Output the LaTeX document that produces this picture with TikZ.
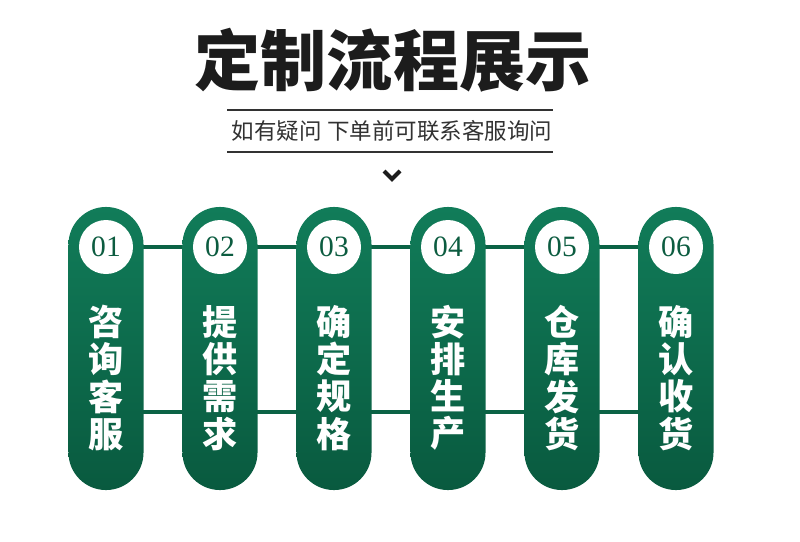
\documentclass[tikz,border=0pt]{standalone}
\usepackage{fontspec}
\usepackage{tikz}
\usetikzlibrary{positioning,backgrounds}
\newfontfamily\cjk{Noto Sans CJK SC}
\newfontfamily\numfont{Liberation Serif}
\definecolor{pilltop}{RGB}{17,124,89}
\definecolor{pillbot}{RGB}{9,90,63}
\definecolor{linkcol}{RGB}{11,99,69}
\definecolor{numcol}{RGB}{12,92,64}
\definecolor{titlecol}{RGB}{28,28,28}
\definecolor{subcol}{RGB}{50,50,50}
\tikzset{
  pill/.style={rectangle,rounded corners=0.9375cm,minimum width=1.875cm,minimum height=7.075cm,
    inner sep=0pt,top color=pilltop,bottom color=pillbot,draw=none},
  numcircle/.style={circle,fill=white,minimum size=1.35cm,inner sep=0pt,
    font=\numfont\fontsize{21}{21}\selectfont,text=numcol},
  pilltext/.style={align=center,text=white,inner sep=0pt,
    font=\cjk\bfseries\fontsize{25}{26.4}\selectfont},
  link/.style={line width=3.5pt,linkcol},
  rule/.style={line width=0.8pt,subcol},
}

\begin{document}
\begin{tikzpicture}[x=0.025cm,y=-0.025cm]
  \useasboundingbox (0,0) rectangle (800,541);
  % Heading
  \node[font=\cjk\bfseries\fontsize{47}{47}\selectfont,text=titlecol] (title) at (393,60) {定制流程展示};
  \node[font=\cjk\fontsize{16}{16}\selectfont,text=subcol] (sub) at (392,131) {如有疑问 下单前可联系客服询问};
  \draw[rule] (227,110) -- (553,110);
  \draw[rule] (227,152) -- (553,152);
  \draw[line width=3pt,titlecol,line join=miter] (384,171) -- (392,179) -- (400,171);
  % Steps
  \node[pill] (p1) at (106,348.5) {};
  \node[pill] (p2) at (220,348.5) {};
  \node[pill] (p3) at (334,348.5) {};
  \node[pill] (p4) at (448,348.5) {};
  \node[pill] (p5) at (562,348.5) {};
  \node[pill] (p6) at (676,348.5) {};
  \node[numcircle] (n1) at (106,247) {01};
  \node[numcircle] (n2) at (220,247) {02};
  \node[numcircle] (n3) at (334,247) {03};
  \node[numcircle] (n4) at (448,247) {04};
  \node[numcircle] (n5) at (562,247) {05};
  \node[numcircle] (n6) at (676,247) {06};
  \node[pilltext] (t1) at (106,378) {咨\\询\\客\\服};
  \node[pilltext] (t2) at (220,378) {提\\供\\需\\求};
  \node[pilltext] (t3) at (334,378) {确\\定\\规\\格};
  \node[pilltext] (t4) at (448,378) {安\\排\\生\\产};
  \node[pilltext] (t5) at (562,378) {仓\\库\\发\\货};
  \node[pilltext] (t6) at (676,378) {确\\认\\收\\货};
  \coordinate (b1) at (106,412); \coordinate (b2) at (220,412); \coordinate (b3) at (334,412);
  \coordinate (b4) at (448,412); \coordinate (b5) at (562,412); \coordinate (b6) at (676,412);
  % Links behind the pills
  \begin{pgfonlayer}{background}
    \draw[link] (n1)--(n2); \draw[link] (n2)--(n3); \draw[link] (n3)--(n4);
    \draw[link] (n4)--(n5); \draw[link] (n5)--(n6);
    \draw[link] (b1)--(b2); \draw[link] (b2)--(b3); \draw[link] (b3)--(b4);
    \draw[link] (b4)--(b5); \draw[link] (b5)--(b6);
  \end{pgfonlayer}
\end{tikzpicture}
\end{document}
